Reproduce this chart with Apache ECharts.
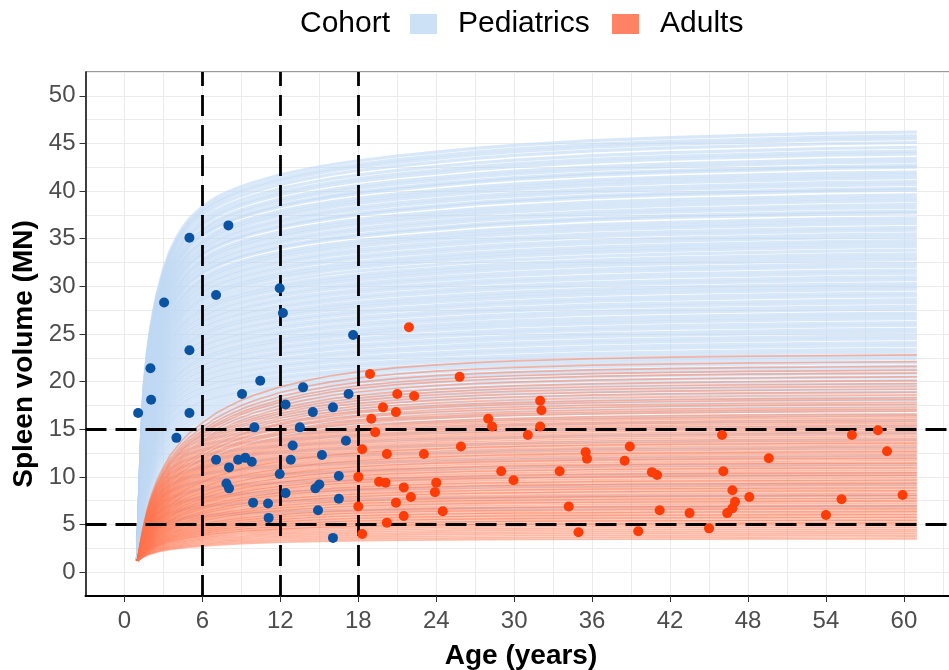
<!DOCTYPE html>
<html>
<head>
<meta charset="utf-8">
<script src="https://cdn.jsdelivr.net/npm/echarts@6/dist/echarts.min.js"></script>
<style>
  html, body { margin: 0; padding: 0; background: #fff; }
  #chart { width: 949px; height: 670px; }
</style>
</head>
<body>
<div id="chart"></div>
<script>
// Age grid (years) on which every growth curve is sampled
const ageGrid = [1, 1.1, 1.2, 1.3, 1.4, 1.5, 1.75, 2, 2.25, 2.5, 3, 3.5, 4, 4.5, 5, 6, 7, 8, 9, 10,
  12, 14, 16, 18, 21, 24, 27, 30, 36, 42, 48, 54, 61];

// Fraction of the rise from the starting volume to the plateau reached at each age
const pedShape = [0, 0.107, 0.195, 0.284, 0.35, 0.407, 0.484, 0.54, 0.584, 0.622, 0.68, 0.722, 0.753, 0.778, 0.798, 0.826, 0.846, 0.861, 0.873, 0.883,
  0.9, 0.913, 0.924, 0.933, 0.944, 0.953, 0.962, 0.969, 0.98, 0.987, 0.992, 0.997, 1];
const adultShape = [0, 0.04, 0.08, 0.115, 0.15, 0.18, 0.25, 0.305, 0.35, 0.39, 0.455, 0.51, 0.55, 0.59, 0.62, 0.67, 0.715, 0.75, 0.78, 0.805,
  0.845, 0.875, 0.9, 0.918, 0.938, 0.952, 0.963, 0.971, 0.982, 0.989, 0.994, 0.997, 1];

// Volume at age 1 shared by all curves
const startVolume = 1.2;

// Plateau volume (MN) of each simulated individual
const pedPlateau = [
  46.2, 45.8, 45.5, 45.1, 44.6, 44.2, 43.9, 43.4, 43.1, 42.7, 42.5, 42.0, 41.7, 41.4, 41.0, 40.7,
  40.3, 40.1, 39.6, 39.3, 39.0, 38.6, 38.3, 37.9, 37.7, 37.2, 36.9, 36.6, 36.2, 35.9, 35.5, 35.2,
  34.8, 34.5, 34.2, 33.8, 33.4, 33.1, 32.8, 32.4, 32.1, 31.7, 31.4, 31.0, 30.7, 30.3, 30.0, 29.7,
  29.3, 29.0, 28.6, 28.3, 27.9, 27.6, 27.2, 26.9, 26.6, 26.2, 25.9, 25.5, 25.2, 24.8, 24.5, 24.1,
  23.8, 23.4, 23.1, 22.7, 22.4, 22.0, 21.6, 21.3, 20.9, 20.5, 20.1, 19.7, 19.3, 18.9, 18.4, 18.0,
  17.5, 17.0, 16.5, 15.9, 15.3, 14.6, 13.9, 13.1, 12.2, 11.3, 10.3, 9.2, 8.1, 6.9
];
const adultPlateau = [
  22.8, 22.1, 21.6, 21.2, 20.9, 20.5, 20.1, 19.8, 19.5, 19.2, 18.9, 18.6, 18.3, 18.1, 17.8, 17.6,
  17.3, 17.1, 16.9, 16.6, 16.4, 16.2, 16.0, 15.8, 15.6, 15.4, 15.2, 15.0, 14.8, 14.6, 14.4, 14.2,
  14.0, 13.8, 13.6, 13.5, 13.3, 13.1, 12.9, 12.7, 12.6, 12.4, 12.2, 12.0, 11.9, 11.7, 11.5, 11.4,
  11.2, 11.0, 10.9, 10.7, 10.5, 10.4, 10.2, 10.1, 9.9, 9.7, 9.6, 9.4, 9.3, 9.1, 8.9, 8.8,
  8.6, 8.5, 8.3, 8.1, 8.0, 7.8, 7.7, 7.5, 7.4, 7.2, 7.0, 6.9, 6.7, 6.6, 6.4, 6.3,
  6.1, 6.0, 5.8, 5.7, 5.5, 5.4, 5.2, 5.1, 4.9, 4.7, 4.5, 4.3, 4.1, 3.9, 3.7, 3.5
];

// Observed patients
const pedAge = [5.0, 8.0, 3.05, 7.05, 11.95, 12.2, 17.6, 5.0, 2.0, 2.05, 1.05, 5.0, 4.0, 10.45, 9.05, 13.75,
  12.4, 14.5, 16.05, 17.25, 10.0, 13.5, 12.95, 17.05, 7.05, 8.05, 8.75, 9.3, 9.8, 12.8, 15.2, 11.95,
  16.5, 7.85, 8.05, 15.0, 14.7, 12.4, 16.5, 9.9, 11.05, 14.9, 11.1, 16.05];
const pedVolume = [35.1, 36.4, 28.3, 29.1, 29.8, 27.2, 24.9, 23.3, 21.4, 18.1, 16.7, 16.7, 14.1, 20.1, 18.7, 19.4,
  17.6, 16.8, 17.3, 18.7, 15.2, 15.2, 13.3, 13.8, 11.8, 11.0, 11.8, 12.0, 11.6, 11.8, 12.3, 10.3,
  10.1, 9.3, 8.8, 9.2, 8.8, 8.3, 7.7, 7.3, 7.2, 6.5, 5.7, 3.6];
const adultAge = [18.9, 21.9, 21.0, 22.3, 19.9, 20.9, 19.0, 19.3, 25.8, 18.3, 20.2, 23.05, 25.9, 28.0, 28.3, 32.0,
  32.1, 32.0, 31.05, 18.0, 19.6, 20.1, 24.0, 23.9, 21.5, 22.05, 20.9, 18.0, 24.5, 21.5, 20.2, 18.3,
  29.0, 29.95, 33.5, 34.2, 34.95, 35.5, 35.6, 38.9, 38.5, 40.6, 41.0, 41.2, 39.55, 43.5, 45.0, 46.0,
  46.1, 46.8, 47.0, 46.8, 46.4, 48.1, 49.6, 54.0, 55.2, 56.0, 58.0, 58.7, 59.9];
const adultVolume = [20.8, 25.7, 18.7, 18.5, 17.3, 16.8, 16.1, 14.7, 20.5, 12.9, 12.4, 12.4, 13.2, 16.1, 15.3, 18.0,
  17.0, 15.3, 14.4, 10.0, 9.5, 9.4, 9.4, 8.4, 8.9, 7.9, 7.3, 6.9, 6.4, 5.9, 5.2, 4.0,
  10.6, 9.65, 10.6, 6.9, 4.2, 12.6, 11.9, 13.2, 11.7, 10.5, 10.2, 6.5, 4.3, 6.2, 4.6, 14.4,
  10.6, 8.6, 7.4, 6.7, 6.2, 7.9, 11.95, 6.0, 7.65, 14.4, 14.9, 12.7, 8.1];

// Reference cut-offs
const ageCutoffs = [6, 12, 18];
const volumeCutoffs = [5, 15];

// Axis tick values
const xTicks = [0, 6, 12, 18, 24, 30, 36, 42, 48, 54, 60];
const yTicks = [0, 5, 10, 15, 20, 25, 30, 35, 40, 45, 50];

const FONT = "'Liberation Sans', Arial, Helvetica, sans-serif";
const PED_LINE = '#c0d8f3';
const ADULT_LINE = '#ff7650';

function curve(plateau, shape) {
  return ageGrid.map((a, i) => [a, startVolume + (plateau - startVolume) * shape[i]]);
}

const series = [];
pedPlateau.forEach(p => series.push({
  type: 'line', name: 'Pediatrics', data: curve(p, pedShape),
  xAxisIndex: 0, yAxisIndex: 0,
  smooth: false, symbol: 'none', silent: true, z: 2,
  lineStyle: { color: PED_LINE, width: 3.2, opacity: 0.6 },
  itemStyle: { color: '#cde1f6' }
}));
adultPlateau.forEach(p => series.push({
  type: 'line', name: 'Adults', data: curve(p, adultShape),
  xAxisIndex: 0, yAxisIndex: 0,
  smooth: false, symbol: 'none', silent: true, z: 3,
  lineStyle: { color: ADULT_LINE, width: 1.7, opacity: 0.5 },
  itemStyle: { color: '#ff8264' }
}));
series.push({
  type: 'scatter', name: 'pedPoints', xAxisIndex: 0, yAxisIndex: 0, z: 5,
  data: pedAge.map((a, i) => [a, pedVolume[i]]),
  symbolSize: 10, itemStyle: { color: '#0a53a3', opacity: 1 }
});
series.push({
  type: 'scatter', name: 'adultPoints', xAxisIndex: 0, yAxisIndex: 0, z: 5,
  data: adultAge.map((a, i) => [a, adultVolume[i]]),
  symbolSize: 10, itemStyle: { color: '#ff3c05', opacity: 1 }
});
series.push({
  type: 'line', name: 'cutoffs', xAxisIndex: 0, yAxisIndex: 0, z: 8, data: [],
  markLine: {
    silent: true, symbol: 'none', animation: false,
    label: { show: false },
    lineStyle: { color: '#000', type: [21, 9], width: 2.8 },
    emphasis: { disabled: true },
    data: [
      ...ageCutoffs.map(v => ({ xAxis: v })),
      ...volumeCutoffs.map(v => ({ yAxis: v }))
    ]
  }
});

const xRange = { min: -3, max: 64.05 };
const yRange = { min: -2.5, max: 52.5 };

const chart = echarts.init(document.getElementById('chart'), null, { renderer: 'canvas' });
chart.setOption({
  animation: false,
  backgroundColor: '#fff',
  textStyle: { fontFamily: FONT },
  title: {
    text: 'Cohort', left: 295, top: 4,
    textStyle: { fontFamily: FONT, fontSize: 30, fontWeight: 'normal', color: '#000' }
  },
  legend: [
    {
      data: [{ name: 'Pediatrics', icon: 'rect', itemStyle: { color: '#cde1f6', opacity: 1 } }],
      left: 405, top: 4, itemWidth: 27, itemHeight: 20, selectedMode: false,
      textStyle: { fontFamily: FONT, fontSize: 30, color: '#000', padding: [0, 0, 0, 16] }
    },
    {
      data: [{ name: 'Adults', icon: 'rect', itemStyle: { color: '#ff8264', opacity: 1 } }],
      left: 607, top: 4, itemWidth: 27, itemHeight: 20, selectedMode: false,
      textStyle: { fontFamily: FONT, fontSize: 30, color: '#000', padding: [0, 0, 0, 16] }
    }
  ],
  grid: {
    left: 85.5, top: 72, width: 871, height: 524,
    outerBoundsMode: 'none', containLabel: false,
    show: true, borderColor: '#333', borderWidth: 1, backgroundColor: '#fff'
  },
  xAxis: [
    {
      type: 'value', ...xRange, interval: 3,
      axisLine: { show: false }, axisTick: { show: false }, axisLabel: { show: false },
      splitLine: { show: true, lineStyle: { color: '#EBEBEB', width: 1 } }
    },
    {
      type: 'value', ...xRange, position: 'bottom',
      splitLine: { show: false },
      axisLine: { show: true, onZero: false, lineStyle: { color: '#000', width: 2 } },
      axisTick: { show: true, customValues: xTicks, length: 6, lineStyle: { color: '#333', width: 1 } },
      axisLabel: { customValues: xTicks, margin: 13, fontSize: 24, color: '#4D4D4D', fontFamily: FONT },
      name: 'Age (years)', nameLocation: 'middle', nameGap: 46,
      nameTextStyle: { fontSize: 28, fontWeight: 'bold', color: '#000', fontFamily: FONT }
    }
  ],
  yAxis: [
    {
      type: 'value', ...yRange, interval: 2.5,
      axisLine: { show: false }, axisTick: { show: false }, axisLabel: { show: false },
      splitLine: { show: true, lineStyle: { color: '#EBEBEB', width: 1 } }
    },
    {
      type: 'value', ...yRange, position: 'left',
      splitLine: { show: false },
      axisLine: { show: true, onZero: false, lineStyle: { color: '#000', width: 1.5 } },
      axisTick: { show: true, customValues: yTicks, length: 6, lineStyle: { color: '#333', width: 1 } },
      axisLabel: { customValues: yTicks, margin: 10, fontSize: 24, color: '#4D4D4D', fontFamily: FONT },
      name: 'Spleen volume (MN)', nameLocation: 'middle', nameGap: 44, nameRotate: 90,
      nameTextStyle: { fontSize: 28, fontWeight: 'bold', color: '#000', fontFamily: FONT, padding: [0, 40, 0, 0] }
    }
  ],
  series: series
});
</script>
</body>
</html>
